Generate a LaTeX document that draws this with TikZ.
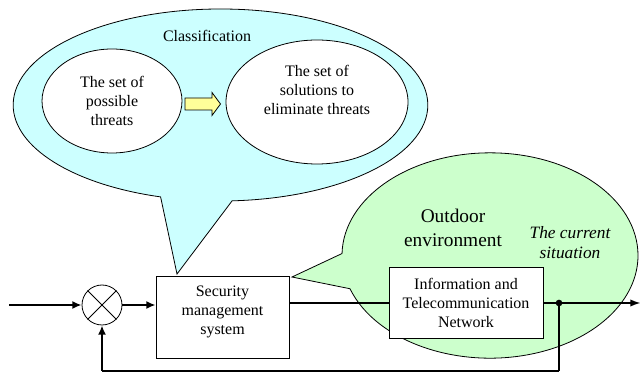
\documentclass[tikz,border=0pt]{standalone}
\usepackage{fontspec}
\setmainfont{Liberation Serif}
\usepackage{tikz}
\usetikzlibrary{positioning, arrows.meta, shapes.geometric, shapes.callouts, calc}
\usepackage{xcolor}
\definecolor{cloudcyan}{HTML}{CCFFFF}
\definecolor{cloudgreen}{HTML}{CCFFCC}
\definecolor{arrowyellow}{HTML}{FFFF99}

\begin{document}
\begin{tikzpicture}[
  x=0.75pt, y=-0.75pt,
  every node/.style={font=\rmfamily\fontsize{12}{14.25}\selectfont, align=center},
  block/.style={draw, fill=white, line width=0.6pt, inner sep=0pt},
  set/.style={draw, ellipse, fill=white, line width=0.6pt, inner sep=0pt},
  cloud/.style={ellipse callout, draw, line width=0.6pt, callout pointer arc=20},
  signal/.style={line width=1.5pt},
  tip/.style={-{Latex[length=7pt,width=6pt]}}
]
\useasboundingbox (0,0) rectangle (642,373);

% classification cloud
\coordinate (tipA) at (177,274);
\node[cloud, fill=cloudcyan, minimum width=311pt, minimum height=144pt,
      callout absolute pointer={(tipA)}] (cls) at (220.5,105) {};
\node (clsname) at (207,36) {Classification};

% threats and solutions
\node[set, minimum width=105pt, minimum height=78pt] (threats) at (112,101)
  {The set of\\possible\\threats};
\node[set, minimum width=136.5pt, minimum height=93pt, text depth=18pt] (solutions) at (317,102)
  {The set of\\solutions to\\eliminate threats};
\draw[fill=arrowyellow, line width=0.6pt] (185,98) -- (212,98) -- (212,92.5)
  -- (220.5,104) -- (212,115.5) -- (212,110) -- (185,110) -- cycle;

% environment cloud
\coordinate (tipB) at (292,277);
\node[cloud, fill=cloudgreen, minimum width=222pt, minimum height=154pt,
      callout absolute pointer={(tipB)}] (env) at (490,255.5) {};
\node[font=\rmfamily\fontsize{14.5}{18}\selectfont] (envname) at (453,228) {Outdoor\\environment};
\node[font=\rmfamily\itshape\fontsize{13}{15}\selectfont] (now) at (570,243) {The current\\situation};

% blocks
\node[block, minimum width=99.75pt, minimum height=61.5pt, text depth=10pt] (sms) at (222.5,317)
  {Security\\management\\system};
\node[block, minimum width=115.5pt, minimum height=53.25pt] (itn) at (466,303)
  {Information and\\Telecommunication\\Network};

% comparator
\node[draw, circle, minimum size=30pt, inner sep=0pt, line width=0.6pt] (sum) at (102,305) {};
\draw[line width=0.6pt] (sum.north west) -- (sum.south east)
                        (sum.north east) -- (sum.south west);

% signal path
\coordinate (in) at (9,305);
\coordinate (out) at (641,303);
\coordinate (back) at (559,371);
\coordinate (corner) at (102,371);
\node[circle, fill, inner sep=0pt, minimum size=5pt] (tap) at (559,303) {};
\draw[signal, tip] (in) -- (sum);
\draw[signal, tip] (sum) -- (sms.west |- sum.east);
\draw[signal] (sms.east |- itn.west) -- (itn.west);
\draw[signal, -{Latex[length=8pt,width=5.5pt]}] (itn.east) -- (out);
\draw[signal] (tap.center) -- (back);
\draw[line width=1pt] (back) -- (corner);
\draw[signal, tip] (corner) -- (sum.south);

\end{tikzpicture}
\end{document}
